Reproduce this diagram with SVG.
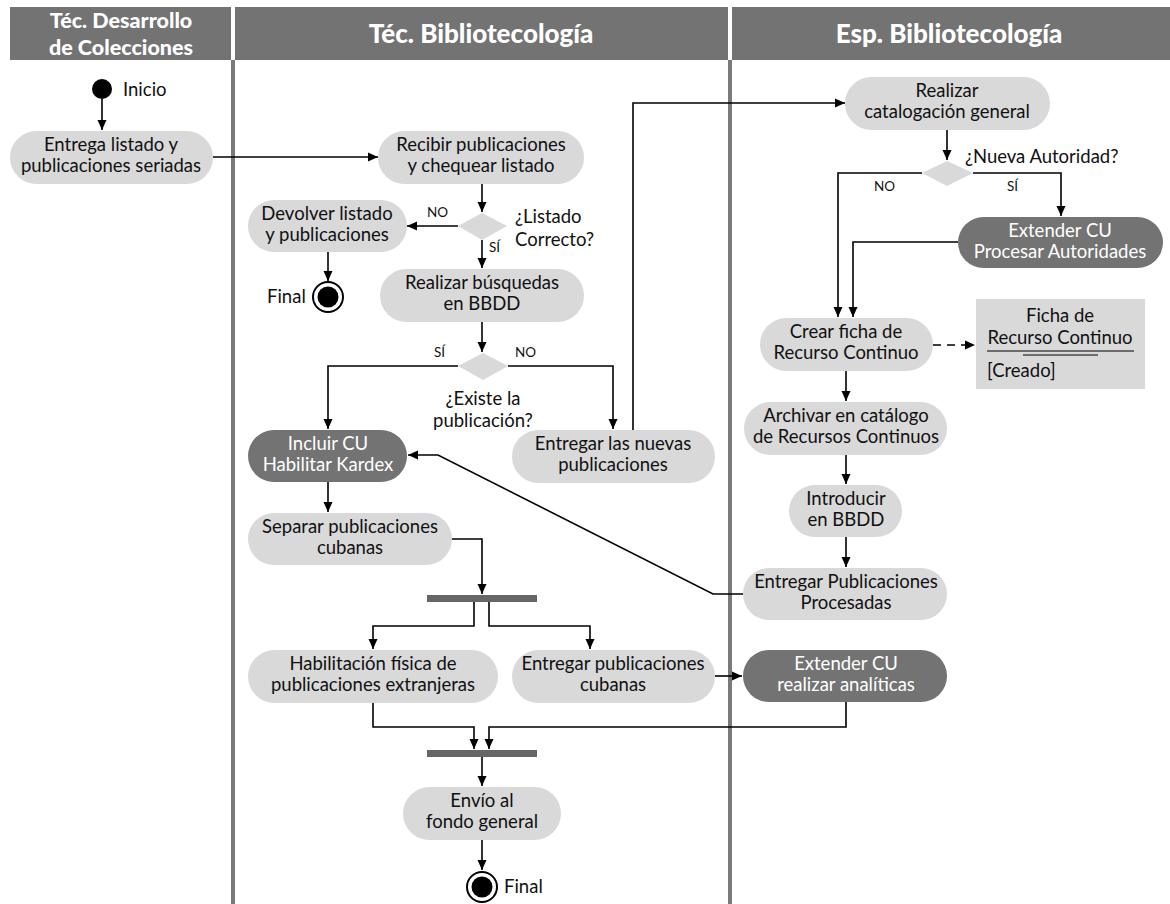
<svg xmlns="http://www.w3.org/2000/svg" width="1170" height="904" viewBox="0 0 1170 904">
<style>
.hdr{fill:#737373}
.hdt{font-family:Lato,"Open Sans",sans-serif;font-weight:900;font-size:26px;fill:#fff;text-anchor:middle}
.hdt2{font-family:Lato,"Open Sans",sans-serif;font-weight:900;font-size:21.5px;fill:#fff;text-anchor:middle}
.lane{fill:#7a7a7a}
.act{fill:#d9d9d9}
.dk{fill:#737373}
.t{font-family:Lato,"Noto Sans",sans-serif;font-size:18.5px;fill:#111;text-anchor:middle}
.tw{font-family:Lato,"Noto Sans",sans-serif;font-size:18.5px;fill:#fff;text-anchor:middle}
.tl{font-family:Lato,"Noto Sans",sans-serif;font-size:18.5px;fill:#111}
.s{font-family:Lato,"Noto Sans",sans-serif;font-size:13.5px;fill:#111}
.c{fill:none;stroke:#000;stroke-width:1.6;marker-end:url(#ah)}
.dia{fill:#d9d9d9}
.bar{fill:#666}
</style>
<defs>
<marker id="ah" markerUnits="userSpaceOnUse" markerWidth="10" markerHeight="10" refX="10" refY="5" orient="auto">
<path d="M0,0.5 L10,5 L0,9.5 z" fill="#000"/>
</marker>
</defs>
<rect width="1170" height="904" fill="#fff"/>
<g id="lanes">
<rect class="hdr" x="10" y="7" width="221" height="53"/>
<rect class="hdr" x="235" y="7" width="493" height="53"/>
<rect class="hdr" x="732" y="7" width="438" height="53"/>
<rect class="lane" x="231" y="60" width="4" height="844"/>
<rect class="lane" x="728" y="60" width="4" height="844"/>
<text class="hdt2" x="121" y="28">Téc. Desarrollo</text>
<text class="hdt2" x="121" y="54.5">de Colecciones</text>
<text class="hdt" x="481" y="43">Téc. Bibliotecología</text>
<text class="hdt" x="949" y="43">Esp. Bibliotecología</text>
</g>
<g id="connectors">
<path class="c" d="M102,99 V130"/>
<path class="c" d="M213,157 H378"/>
<path class="c" d="M482,184 V212"/>
<path class="c" d="M458,226 H407"/>
<path class="c" d="M328,252 V281"/>
<path class="c" d="M482,240 V268"/>
<path class="c" d="M482,322 V352"/>
<path class="c" d="M458,366 H328 V429"/>
<path class="c" d="M508,366 H613 V429"/>
<path class="c" d="M633,430 V103 H845"/>
<path class="c" d="M947,130 V160"/>
<path class="c" d="M922,173 H838 V317"/>
<path class="c" d="M973,173 H1061 V216"/>
<path class="c" d="M958,242 H853 V317"/>
<path class="c" d="M933,345 H975" stroke-dasharray="8,6"/>
<path class="c" d="M846,371 V401"/>
<path class="c" d="M846,455 V484"/>
<path class="c" d="M846,537 V567"/>
<path class="c" d="M743,594 H713 L438,455 H408"/>
<path class="c" d="M328,482 V512"/>
<path class="c" d="M452,539 H482 V594"/>
<path class="c" d="M474,602 V626 H373 V649"/>
<path class="c" d="M489,602 V626 H590 V649"/>
<path class="c" d="M715,676 H742"/>
<path class="c" d="M373,703 V727 H474 V749"/>
<path class="c" d="M846,702 V727 H489 V749"/>
<path class="c" d="M482,757 V786"/>
<path class="c" d="M482,840 V870"/>
<text class="s" x="427" y="217">NO</text>
<text class="s" x="489" y="252">SÍ</text>
<text class="s" x="434" y="357">SÍ</text>
<text class="s" x="515" y="357">NO</text>
<text class="s" x="874" y="191">NO</text>
<text class="s" x="1007" y="191">SÍ</text>
</g>
<g id="inicio">
<circle cx="102" cy="89" r="10" fill="#000"/>
<text class="tl" x="123" y="96">Inicio</text>
</g>
<g id="entrega-listado">
<rect class="act" x="10" y="131" width="203" height="53" rx="26.5"/>
<text class="t" x="111" y="151">Entrega listado y</text>
<text class="t" x="111" y="172">publicaciones seriadas</text>
</g>
<g id="recibir">
<rect class="act" x="378" y="131" width="206" height="53" rx="26.5"/>
<text class="t" x="481" y="151">Recibir publicaciones</text>
<text class="t" x="481" y="172">y chequear listado</text>
</g>
<g id="dec-listado">
<path class="dia" d="M482,213 L507,226 L482,240 L458,226 z"/>
<text class="tl" x="515" y="223">¿Listado</text>
<text class="tl" x="515" y="246">Correcto?</text>
</g>
<g id="devolver">
<rect class="act" x="248" y="200" width="159" height="52" rx="26"/>
<text class="t" x="327" y="220">Devolver listado</text>
<text class="t" x="327" y="241">y publicaciones</text>
</g>
<g id="final1">
<circle cx="328" cy="297" r="15" fill="#fff" stroke="#000" stroke-width="2"/>
<circle cx="328" cy="297" r="10.5" fill="#000"/>
<text class="tl" x="267" y="303">Final</text>
</g>
<g id="busquedas">
<rect class="act" x="380" y="269" width="204" height="53" rx="26.5"/>
<text class="t" x="482" y="289">Realizar búsquedas</text>
<text class="t" x="482" y="310">en BBDD</text>
</g>
<g id="dec-existe">
<path class="dia" d="M483,353 L508,366 L483,380 L458,366 z"/>
<text class="t" x="483" y="405">¿Existe la</text>
<text class="t" x="483" y="427">publicación?</text>
</g>
<g id="incluir">
<rect class="dk" x="248" y="430" width="159" height="52" rx="26"/>
<text class="tw" x="328" y="450">Incluir CU</text>
<text class="tw" x="328" y="471">Habilitar Kardex</text>
</g>
<g id="entregar-nuevas">
<rect class="act" x="512" y="430" width="203" height="53" rx="26.5"/>
<text class="t" x="613" y="450">Entregar las nuevas</text>
<text class="t" x="613" y="471">publicaciones</text>
</g>
<g id="separar">
<rect class="act" x="248" y="513" width="204" height="52" rx="26"/>
<text class="t" x="350" y="533">Separar publicaciones</text>
<text class="t" x="350" y="554">cubanas</text>
</g>
<g id="fork">
<rect class="bar" x="427" y="595" width="110" height="7"/>
</g>
<g id="habilitacion">
<rect class="act" x="248" y="650" width="250" height="53" rx="26.5"/>
<text class="t" x="373" y="670">Habilitación física de</text>
<text class="t" x="373" y="691">publicaciones extranjeras</text>
</g>
<g id="entregar-cubanas">
<rect class="act" x="512" y="650" width="203" height="53" rx="26.5"/>
<text class="t" x="613" y="670">Entregar publicaciones</text>
<text class="t" x="613" y="691">cubanas</text>
</g>
<g id="join">
<rect class="bar" x="427" y="750" width="110" height="7"/>
</g>
<g id="envio">
<rect class="act" x="403" y="787" width="158" height="53" rx="26.5"/>
<text class="t" x="482" y="807">Envío al</text>
<text class="t" x="482" y="828">fondo general</text>
</g>
<g id="final2">
<circle cx="482" cy="887" r="15" fill="#fff" stroke="#000" stroke-width="2"/>
<circle cx="482" cy="887" r="10.5" fill="#000"/>
<text class="tl" x="504" y="893">Final</text>
</g>
<g id="catalogacion">
<rect class="act" x="845" y="77" width="205" height="53" rx="26.5"/>
<text class="t" x="947" y="97">Realizar</text>
<text class="t" x="947" y="118">catalogación general</text>
</g>
<g id="dec-autoridad">
<path class="dia" d="M947,161 L973,173 L947,186 L922,173 z"/>
<text class="tl" x="965" y="163">¿Nueva Autoridad?</text>
</g>
<g id="procesar-autoridades">
<rect class="dk" x="958" y="217" width="205" height="51" rx="25.5"/>
<text class="tw" x="1060" y="237">Extender CU</text>
<text class="tw" x="1060" y="258">Procesar Autoridades</text>
</g>
<g id="crear-ficha">
<rect class="act" x="760" y="318" width="173" height="53" rx="26.5"/>
<text class="t" x="846" y="338">Crear ficha de</text>
<text class="t" x="846" y="359">Recurso Continuo</text>
</g>
<g id="ficha-objeto">
<rect class="act" x="976" y="299" width="169" height="90"/>
<text class="t" x="1060" y="322">Ficha de</text>
<text class="t" x="1060" y="344">Recurso Continuo</text>
<line x1="987" y1="351" x2="1134" y2="351" stroke="#000" stroke-width="1.2"/>
<line x1="1023" y1="355" x2="1098" y2="355" stroke="#000" stroke-width="1.2"/>
<text class="tl" x="987" y="377">[Creado]</text>
</g>
<g id="archivar">
<rect class="act" x="744" y="402" width="203" height="53" rx="26.5"/>
<text class="t" x="846" y="422">Archivar en catálogo</text>
<text class="t" x="846" y="443">de Recursos Continuos</text>
</g>
<g id="introducir">
<rect class="act" x="789" y="485" width="113" height="52" rx="26"/>
<text class="t" x="846" y="505">Introducir</text>
<text class="t" x="846" y="526">en BBDD</text>
</g>
<g id="entregar-procesadas">
<rect class="act" x="743" y="568" width="204" height="52" rx="26"/>
<text class="t" x="846" y="588">Entregar Publicaciones</text>
<text class="t" x="846" y="609">Procesadas</text>
</g>
<g id="analiticas">
<rect class="dk" x="743" y="650" width="204" height="52" rx="26"/>
<text class="tw" x="846" y="670">Extender CU</text>
<text class="tw" x="846" y="691">realizar analíticas</text>
</g>
</svg>
